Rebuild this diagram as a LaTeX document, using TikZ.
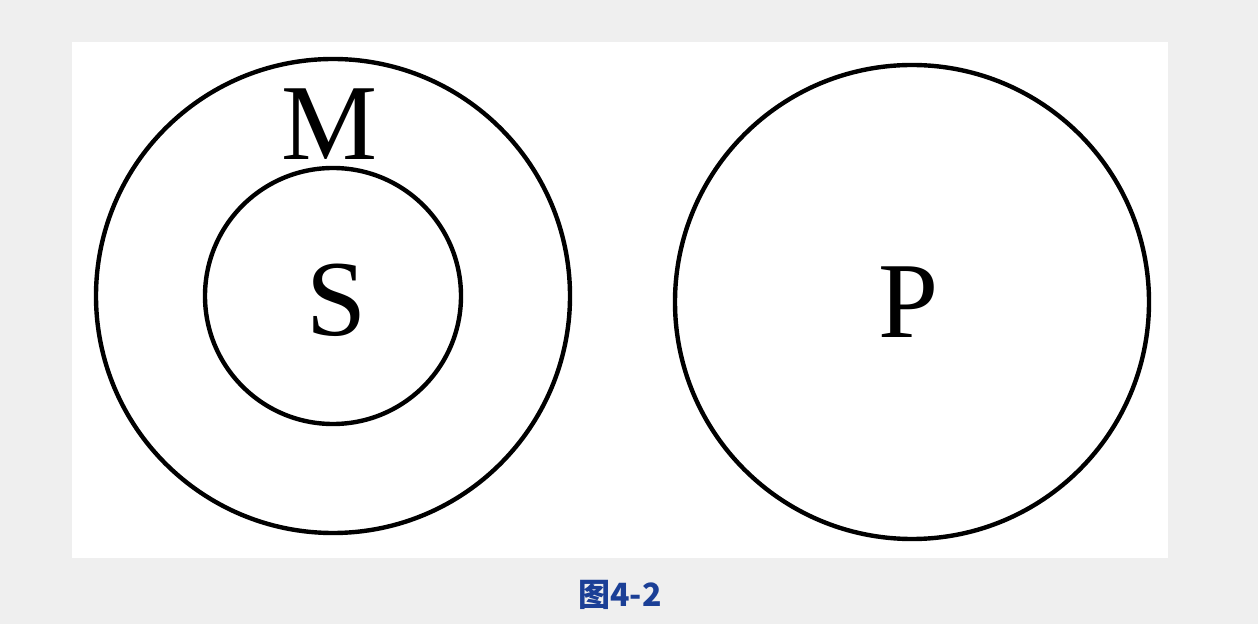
\documentclass[tikz,border=0pt]{standalone}
\usepackage{fontspec}
\setmainfont{Liberation Serif}
\newfontfamily\cjkfont{Noto Sans CJK SC}
\usepackage{tikz}
\usetikzlibrary{positioning}
\definecolor{pagebg}{HTML}{EFEFEF}
\definecolor{capblue}{HTML}{1B3F96}

\begin{document}
\begin{tikzpicture}[x=1pt,y=1pt,
  ring/.style={draw=black,circle,line width=4.4pt,inner sep=0pt},
  term/.style={font=\fontsize{108}{108}\selectfont,inner sep=0pt},
  figcap/.style={font=\cjkfont\bfseries\fontsize{32}{32}\selectfont,color=capblue}]
% background and white panel
\fill[pagebg] (0,0) rectangle (1258,624);
\fill[white] (72,66) rectangle (1168,582);
\useasboundingbox (0,0) rectangle (1258,624);
% term circles
\node[ring,minimum size=474pt] (outerM) at (333,328) {};
\node[ring,minimum size=256pt] (innerS) at (333,328) {};
\node[ring,minimum size=474pt] (circP) at (912,322) {};
% labels
\node[term] (labM) at (330,500) {M};
\node[term] (labS) at (337,324) {S};
\node[term] (labP) at (909,322) {P};
\node[figcap] (caption) at (620,29) {图4-2};
\end{tikzpicture}
\end{document}
